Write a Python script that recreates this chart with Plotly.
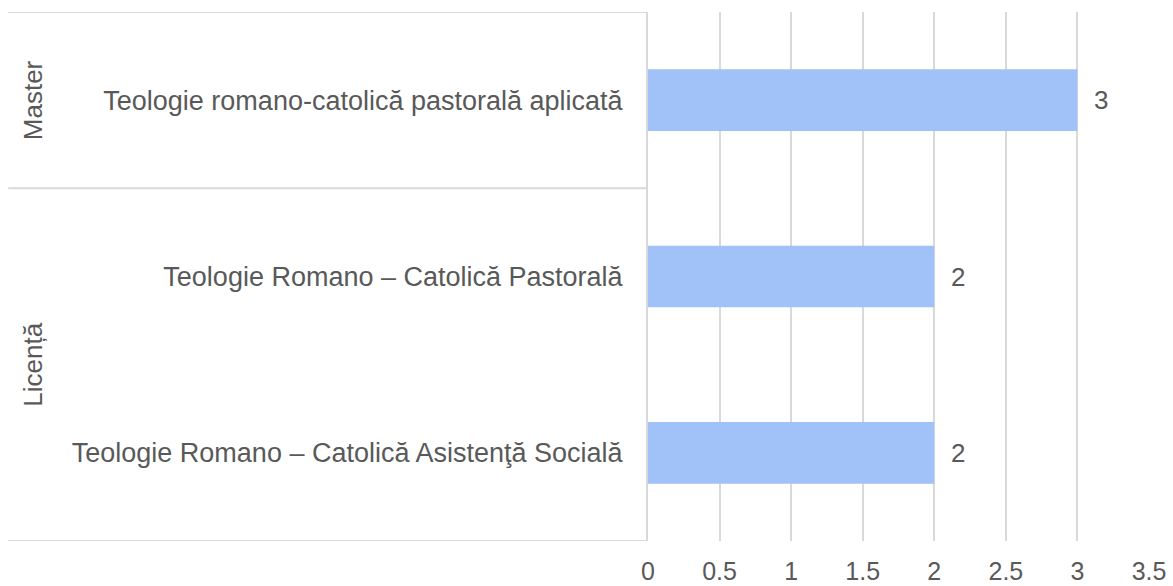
import plotly.graph_objects as go

# ---- data ----
categories = [
    "Teologie Romano – Catolică Asistenţă Socială",
    "Teologie Romano – Catolică Pastorală",
    "Teologie romano-catolică pastorală aplicată",
]
values = [2, 2, 3]
groups = ["Licență", "Master"]
group_centers = [0.5, 2]          # category-index centre of each group
group_bounds = [-0.5, 1.5, 2.5]   # category-index borders between groups
x_ticks = [0, 0.5, 1, 1.5, 2, 2.5, 3, 3.5]

FONT = "Liberation Sans, Arial, sans-serif"
TXT = "#595959"
GRID = "#d9d9d9"

fig = go.Figure()
fig.add_trace(go.Bar(
    x=values, y=categories, orientation="h",
    width=0.35, marker=dict(color="#a0c2f8", line=dict(width=0)),
    hoverinfo="x+y",
))

# data labels
for v, c in zip(values, categories):
    fig.add_annotation(x=v, y=c, xref="x", yref="y", text=str(v),
                       showarrow=False, xanchor="left", xshift=15,
                       font=dict(family=FONT, size=26, color=TXT))

# group labels
for g, yc in zip(groups, group_centers):
    fig.add_annotation(x=-1.2275, y=yc, xref="paper", yref="y", text=g,
                       textangle=-90, showarrow=False,
                       xanchor="center", yanchor="middle",
                       font=dict(family=FONT, size=26, color=TXT))

# group separators
for b in group_bounds:
    fig.add_shape(type="line", xref="paper", yref="y",
                  x0=-1.277, x1=0, y0=b, y1=b,
                  line=dict(color=GRID, width=2))

fig.update_layout(
    width=1173, height=586,
    margin=dict(l=648, r=24, t=12, b=45, autoexpand=False),
    paper_bgcolor="white", plot_bgcolor="white",
    showlegend=False,
    xaxis=dict(range=[0, 3.5], tickvals=x_ticks,
               ticktext=[("%g" % t) for t in x_ticks],
               showgrid=True, gridcolor=GRID, gridwidth=2,
               zeroline=False, showline=False, ticks="",
               ticklabelstandoff=13, automargin=False,
               tickfont=dict(family=FONT, size=25, color=TXT)),
    yaxis=dict(type="category", categoryorder="array", categoryarray=categories,
               range=[-0.5, 2.5], showgrid=False, zeroline=False,
               showline=True, linecolor=GRID, linewidth=2,
               ticks="", ticklabelstandoff=18, automargin=False,
               tickfont=dict(family=FONT, size=27, color=TXT)),
)

fig.write_html("out.html", config={"displayModeBar": False},
               post_script="document.body.style.margin='0';document.body.style.overflow='hidden';")
